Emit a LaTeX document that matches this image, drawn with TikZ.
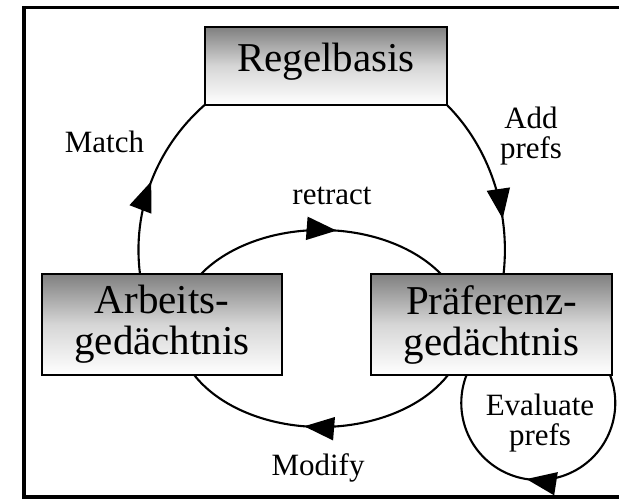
\documentclass[tikz,border=0pt]{standalone}
\usepackage{fontspec}
\setmainfont{Liberation Serif}
\usetikzlibrary{arrows.meta,decorations.markings}
\begin{document}
\begin{tikzpicture}[x=1pt,y=-1pt,
  store/.style={draw=black, line width=2.6pt, outer sep=0pt, inner sep=0pt,
    top color=black!50, bottom color=white, middle color=black!16,
    font=\fontsize{41}{41}\selectfont, align=center},
  lbl/.style={inner sep=0pt, font=\fontsize{31}{30}\selectfont, align=center},
  flow/.style={line width=2.1pt},
  tipat/.style={postaction=decorate, decoration={markings,
    mark=at position #1 with {\arrow{Triangle[length=30pt,width=23pt]}}}}]
\useasboundingbox (0,0) rectangle (619,500);
\fill[white] (0,0) rectangle (619,500);
% frame, open on the right
\draw[line width=3.4pt] (619,7.5) -- (24,7.5) -- (24,497) -- (619,497);

% the three stores
\node[store, minimum width=242pt, minimum height=78pt, text height=24pt, text depth=12pt]
  (regel) at (326,66) {Regelbasis};
\node[store, minimum width=240pt, minimum height=101pt]
  (arb) at (162,324.5) {Arbeits-\\gedächtnis};
\node[store, minimum width=241pt, minimum height=101pt]
  (pref) at (491.5,324.5) {Präferenz-\\gedächtnis};

% outer cycle
\draw[flow, tipat=0.5] ([xshift=98pt]arb.north west)
  arc[start angle=172.9, end angle=228, x radius=200, y radius=195];
\draw[flow, tipat=0.7] (regel.south east)
  arc[start angle=-48, end angle=7.07, x radius=175, y radius=195];

% inner cycle
\draw[flow, tipat=0.56] ([xshift=39pt]arb.north)
  arc[start angle=213.6, end angle=326.4, x radius=144, y radius=98.5];
\draw[flow, tipat=0.56] ([xshift=-43.5pt]pref.south)
  arc[start angle=28.2, end angle=151.8, x radius=144, y radius=98.5];

% self loop
\draw[flow, tipat=0.54] ([xshift=-2pt]pref.south east)
  arc[start angle=-21.3, end angle=201.3, radius=77];

% labels
\node[lbl] (lmatch) at (104.5,141.5) {Match};
\node[lbl] (ladd) at (531,136) {Add\\prefs};
\node[lbl] (lretract) at (332,196) {retract};
\node[lbl] (lmodify) at (318,468.4) {Modify};
\node[lbl] (leval) at (540,423.5) {Evaluate\\prefs};
\end{tikzpicture}
\end{document}
